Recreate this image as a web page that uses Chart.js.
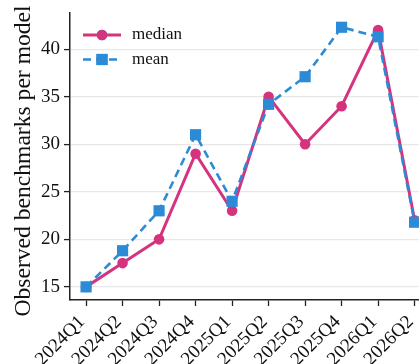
<!DOCTYPE html>
<html>
<head>
<meta charset="UTF-8">
<script src="https://cdn.jsdelivr.net/npm/chart.js"></script>
<style>
  html, body { margin: 0; padding: 0; background: #fff; overflow: hidden; }
  #wrap { position: relative; width: 419px; height: 364px; }
</style>
</head>
<body>
<div id="wrap"><canvas id="chart"></canvas></div>
<script>
  const quarters = ['2024Q1','2024Q2','2024Q3','2024Q4','2025Q1','2025Q2','2025Q3','2025Q4','2026Q1','2026Q2'];
  const medianVals = [15, 17.5, 20, 29, 23, 35, 30, 34, 42, 22];
  const meanVals = [15, 18.8, 23, 31, 24, 34.2, 37.1, 42.3, 41.3, 21.8];
  const yTicks = [15, 20, 25, 30, 35, 40];
  const yTitle = 'Observed benchmarks per model';

  const pink = '#d6337f';
  const blue = '#2b8bd6';
  const serif = "'Liberation Serif', 'DejaVu Serif', serif";

  const pts = vals => vals.map((v, i) => ({ x: i, y: v }));

  // legend drawn by hand so the sample shows line + marker
  const lineLegend = {
    id: 'lineLegend',
    afterDraw(chart) {
      const ctx = chart.ctx;
      const x0 = chart.chartArea.left + 13;
      let y = chart.chartArea.top + 22;
      chart.data.datasets.forEach(ds => {
        ctx.save();
        ctx.strokeStyle = ds.borderColor;
        ctx.lineWidth = ds.borderWidth;
        ctx.setLineDash(ds.borderDash || []);
        ctx.beginPath();
        ctx.moveTo(x0, y);
        ctx.lineTo(x0 + 38, y);
        ctx.stroke();
        ctx.setLineDash([]);
        Chart.helpers.drawPoint(ctx, {
          pointStyle: ds.pointStyle, radius: ds.pointRadius, borderWidth: 0
        }, x0 + 19, y);
        ctx.fillStyle = ds.backgroundColor;
        ctx.fill();
        ctx.fillStyle = '#111';
        ctx.font = '17px ' + serif;
        ctx.textBaseline = 'middle';
        ctx.fillText(ds.label, x0 + 49, y);
        ctx.restore();
        y += 24.5;
      });
    }
  };

  // y title a little below the plot centre, like the original
  const yTitlePlugin = {
    id: 'yTitle',
    afterDraw(chart) {
      const ctx = chart.ctx;
      const a = chart.chartArea;
      ctx.save();
      ctx.translate(29.5, (a.top + a.bottom) / 2 + 4.5);
      ctx.rotate(-Math.PI / 2);
      ctx.fillStyle = '#111';
      ctx.font = '23.6px ' + serif;
      ctx.textAlign = 'center';
      ctx.textBaseline = 'alphabetic';
      ctx.fillText(yTitle, 0, 0);
      ctx.restore();
    }
  };

  new Chart(document.getElementById('chart'), {
    type: 'line',
    data: {
      datasets: [
        {
          label: 'median', data: pts(medianVals), order: 1,
          borderColor: pink, backgroundColor: pink, borderWidth: 3,
          pointStyle: 'circle', pointRadius: 5.3, pointBorderWidth: 0,
          pointBackgroundColor: pink, tension: 0, clip: false
        },
        {
          label: 'mean', data: pts(meanVals), order: 0,
          borderColor: blue, backgroundColor: blue, borderWidth: 2.6,
          borderDash: [8, 5],
          pointStyle: 'rect', pointRadius: 7.9, pointBorderWidth: 0,
          pointBackgroundColor: blue, tension: 0, clip: false
        }
      ]
    },
    options: {
      responsive: true,
      maintainAspectRatio: false,
      animation: false,
      layout: { autoPadding: false, padding: { top: 13, right: 0, left: 0, bottom: 0 } },
      plugins: { legend: { display: false }, tooltip: { enabled: false } },
      scales: {
        x: {
          type: 'linear',
          min: -0.44,
          max: 9.12,
          afterBuildTicks: axis => { axis.ticks = quarters.map((_, i) => ({ value: i })); },
          afterFit: axis => { axis.height = 64; axis.paddingLeft = 0; axis.paddingRight = 0; },
          ticks: {
            callback: v => quarters[v],
            maxRotation: 45, minRotation: 45, labelOffset: -4,
            color: '#111', font: { family: serif, size: 19 }, padding: 5
          },
          grid: { drawOnChartArea: false, tickLength: 6, tickColor: '#222', tickWidth: 1.3 },
          border: { color: '#222', width: 1.5 }
        },
        y: {
          min: 13.62,
          max: 43.8,
          afterBuildTicks: axis => { axis.ticks = yTicks.map(v => ({ value: v })); },
          afterFit: axis => { axis.width = 70; axis.paddingTop = 0; axis.paddingBottom = 0; },
          ticks: { color: '#111', font: { family: serif, size: 19 }, padding: 4 },
          grid: { color: '#e8e8e8', lineWidth: 1.2, tickLength: 6, tickColor: '#222', tickWidth: 1.3 },
          border: { color: '#222', width: 1.5 }
        }
      }
    },
    plugins: [lineLegend, yTitlePlugin]
  });
</script>
</body>
</html>
